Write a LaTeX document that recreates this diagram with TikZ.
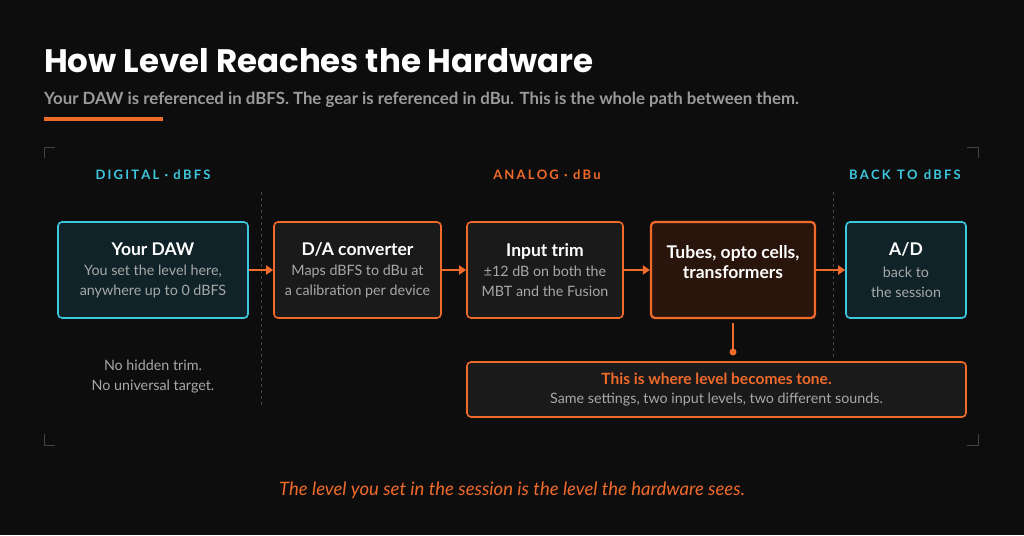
\documentclass[tikz,border=0pt]{standalone}
\usepackage{fontspec}
\setmainfont{Lato}
\newfontfamily\headfont{Poppins}
\usetikzlibrary{arrows.meta,positioning}
\definecolor{bgc}{HTML}{0D0D0D}
\definecolor{cyanc}{HTML}{3EC8E0}
\definecolor{orangec}{HTML}{F06A2A}
\definecolor{boxc}{HTML}{1A1A1A}
\definecolor{digc}{HTML}{0F2328}
\definecolor{tubec}{HTML}{2A150C}
\definecolor{greyc}{HTML}{A8A8A8}
\definecolor{subc}{HTML}{9A9A9A}
\definecolor{linec}{HTML}{444444}
\tikzset{
  stagebox/.style={draw=orangec,fill=boxc,line width=1.6pt,rounded corners=4pt,minimum height=96pt,align=center,text=white,font=\fontsize{14.3}{19.5}\selectfont},
  digibox/.style={stagebox,draw=cyanc,fill=digc},
  zonelabel/.style={font=\bfseries\fontsize{13}{15}\selectfont},
  flow/.style={-{Triangle[length=7pt,width=9pt]},orangec,line width=2pt},
  divider/.style={linec,dashed,line width=1pt},
  corner/.style={linec,line width=0.8pt}
}
\newcommand{\stagehead}[1]{{\bfseries\fontsize{17.5}{22}\selectfont #1}}
\begin{document}
\begin{tikzpicture}[x=1pt,y=-1pt]
\fill[bgc] (0,0) rectangle (1024,535);
\useasboundingbox (0,0) rectangle (1024,535);

% Heading
\node[anchor=base west,text=white,inner sep=0] (title) at (44,72) {\headfont\bfseries\fontsize{32.5}{36}\selectfont How Level Reaches the Hardware};
\node[anchor=base west,text=subc,inner sep=0] (sub) at (44,104) {\bfseries\fontsize{16.8}{19}\selectfont Your DAW is referenced in dBFS. The gear is referenced in dBu. This is the whole path between them.};
\draw[orangec,line width=4pt] (44,119) -- (163,119);

% Frame corners
\draw[corner] (44,158) |- (55,147);
\draw[corner] (967,147) -| (978,158);
\draw[corner] (44,434) |- (55,445);
\draw[corner] (967,445) -| (978,434);

% Zone labels
\node[zonelabel,text=cyanc] (zdig) at (153,175) {D\,I\,G\,I\,T\,A\,L \,·\, d\,B\,F\,S};
\node[zonelabel,text=orangec] (zana) at (547,175) {A\,N\,A\,L\,O\,G \,·\, d\,B\,u};
\node[zonelabel,text=cyanc] (zback) at (905,175) {B\,A\,C\,K \ T\,O \ d\,B\,F\,S};

% Dividers
\draw[divider] (261,192) -- (261,407);
\draw[divider] (833,192) -- (833,357);

% Stages
\node[digibox,minimum width=190pt] (daw) at (153,270) {\stagehead{Your DAW}\\[1pt]\textcolor{greyc}{You set the level here,}\\\textcolor{greyc}{anywhere up to 0 dBFS}};
\node[stagebox,minimum width=167pt] (da) at (357.5,270) {\stagehead{D/A converter}\\[1pt]\textcolor{greyc}{Maps dBFS to dBu at}\\\textcolor{greyc}{a calibration per device}};
\node[stagebox,minimum width=156pt] (trim) at (545,270) {\stagehead{Input trim}\\[1pt]\textcolor{greyc}{±12 dB on both the}\\\textcolor{greyc}{MBT and the Fusion}};
\node[stagebox,fill=tubec,line width=2.2pt,minimum width=164pt] (tubes) at (733,270) {};
\node[text=white,align=center] (tubestext) at (733,262) {\stagehead{Tubes, opto cells,}\\[3pt]\stagehead{transformers}};
\node[digibox,minimum width=120pt] (ad) at (906,270) {\stagehead{A/D}\\[3pt]\textcolor{greyc}{back to}\\\textcolor{greyc}{the session}};

% Signal flow
\draw[flow] (daw) -- (da);
\draw[flow] (da) -- (trim);
\draw[flow] (trim) -- (tubes);
\draw[flow] (tubes) -- (ad);

% Notes
\node[text=greyc,align=center,font=\fontsize{14.3}{20}\selectfont] (note) at (153,377) {No hidden trim.\\No universal target.};
\node[stagebox,minimum width=499pt,minimum height=55pt] (tone) at (716.5,389.5) {{\bfseries\fontsize{15.5}{21}\selectfont\textcolor{orangec}{This is where level becomes tone.}}\\\textcolor{greyc}{Same settings, two input levels, two different sounds.}};
\coordinate (dot) at (733,352);
\draw[orangec,line width=1.8pt] ([yshift=-4pt]tubes.south) -- (dot);
\fill[orangec] (dot) circle (3.5pt);

% Footer
\node[text=orangec,font=\itshape\fontsize{18.5}{22}\selectfont] (foot) at (512,490) {The level you set in the session is the level the hardware sees.};
\end{tikzpicture}
\end{document}
